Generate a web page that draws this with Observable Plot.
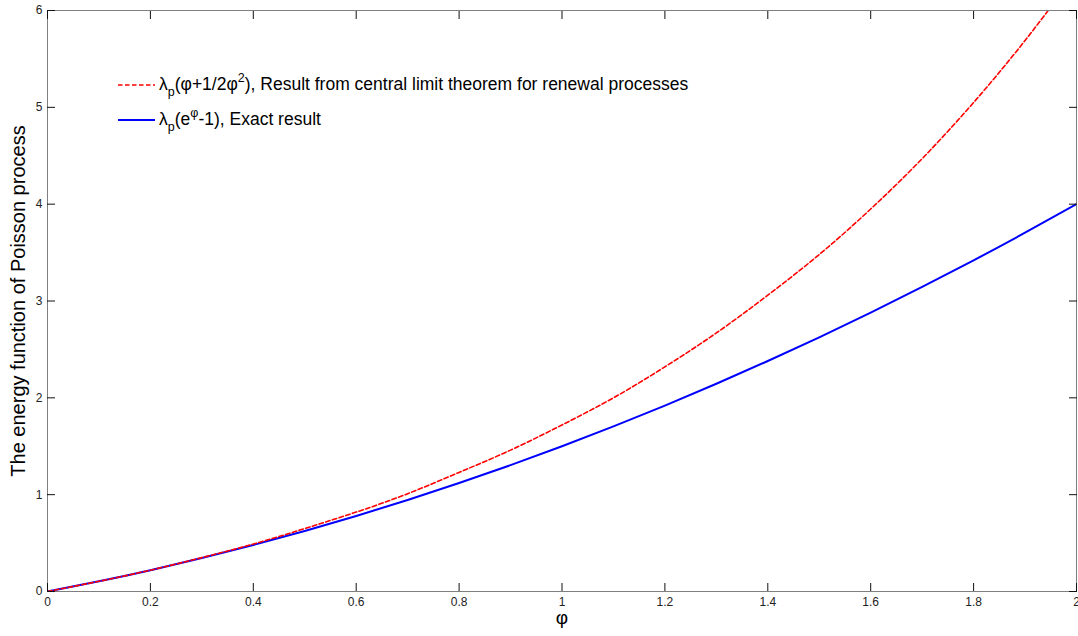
<!DOCTYPE html>
<html>
<head>
<meta charset="utf-8">
<script src="https://cdn.jsdelivr.net/npm/d3@7"></script>
<script src="https://cdn.jsdelivr.net/npm/@observablehq/plot@0.6"></script>
<style>
  html, body { margin: 0; padding: 0; background: #fff; }
  #wrap { position: relative; width: 1078px; height: 636px; font-family: "Liberation Sans", Arial, sans-serif; }
  #legend { position: absolute; left: 118px; top: 75px; font-size: 17.5px; color: #000; line-height: 1; }
  #legend .row { display: flex; align-items: center; height: 20px; margin-bottom: 15px; white-space: nowrap; }
  #legend svg { margin-right: 4px; }
  #legend sub { font-size: 12.5px; vertical-align: -6px; line-height: 0; }
  #legend sup { font-size: 12.5px; vertical-align: 8px; line-height: 0; }
</style>
</head>
<body>
<div id="wrap"><div id="legend"></div></div>
<script>
// x values (φ)
const phi = [0, 0.1, 0.2, 0.3, 0.4, 0.5, 0.6, 0.7, 0.8, 0.9, 1.0, 1.1, 1.2, 1.3, 1.4, 1.5, 1.6, 1.7, 1.8, 1.9, 2.0];
// red dashed curve (upper)
const redValues = [0, 0.105, 0.22, 0.35, 0.49, 0.65, 0.82, 1.01, 1.23, 1.46, 1.72, 2.0, 2.32, 2.67, 3.06, 3.48, 3.95, 4.47, 5.05, 5.69, 6.39];
// blue solid curve (lower)
const blueValues = [0, 0.105, 0.22, 0.345, 0.48, 0.625, 0.78, 0.945, 1.12, 1.305, 1.5, 1.705, 1.92, 2.145, 2.38, 2.625, 2.88, 3.145, 3.42, 3.705, 4.0];

const xTicks = [0, 0.2, 0.4, 0.6, 0.8, 1, 1.2, 1.4, 1.6, 1.8, 2];
const yTicks = [0, 1, 2, 3, 4, 5, 6];
const xLabel = "φ";
const yLabel = "The energy function of Poisson process";
const redLegend = ["λ", "p", "(φ+1/2φ", "2", "), Result from central limit theorem for renewal processes"];
const blueLegend = ["λ", "p", "(e", "φ", "-1), Exact result"];

const redColor = "#ff0000";
const blueColor = "#0000ff";

const redData = phi.map((x, i) => ({x, y: redValues[i]}));
const blueData = phi.map((x, i) => ({x, y: blueValues[i]}));

const chart = Plot.plot({
  width: 1078,
  height: 636,
  marginLeft: 47,
  marginRight: 2,
  marginTop: 10,
  marginBottom: 45,
  style: {fontFamily: "'Liberation Sans', Arial, sans-serif", fontSize: "12px", background: "#fff"},
  x: {domain: [0, 2]},
  y: {domain: [0, 6]},
  marks: [
    Plot.line(blueData, {x: "x", y: "y", stroke: blueColor, strokeWidth: 2, curve: "natural", clip: true}),
    Plot.line(redData, {x: "x", y: "y", stroke: redColor, strokeWidth: 1.6, strokeDasharray: "4.5,2.5", curve: "natural", clip: true}),
    Plot.frame({stroke: "#7f7f7f"}),
    Plot.axisX(xTicks, {anchor: "bottom", tickSize: -8, tickPadding: 14, stroke: "#111", fill: "#222", label: null, tickFormat: d => String(d)}),
    Plot.axisX(xTicks, {anchor: "top", tickSize: -8, stroke: "#111", label: null, tickFormat: () => ""}),
    Plot.axisY(yTicks, {anchor: "left", tickSize: -8, tickPadding: 13, stroke: "#111", fill: "#222", label: null, tickFormat: d => String(d)}),
    Plot.axisY(yTicks, {anchor: "right", tickSize: -8, stroke: "#111", label: null, tickFormat: () => ""}),
    Plot.text([yLabel], {frameAnchor: "left", textAnchor: "middle", rotate: -90, dx: -29, fontSize: 20, fill: "#000"}),
    Plot.text([xLabel], {frameAnchor: "bottom", textAnchor: "middle", dy: 32, fontSize: 19, fill: "#000"})
  ]
});
const wrap = document.getElementById("wrap");
wrap.insertBefore(chart, wrap.firstChild);

function legendRow(parts, color, dashed) {
  const row = document.createElement("div");
  row.className = "row";
  row.innerHTML =
    `<svg width="37" height="6"><line x1="0" x2="37" y1="3" y2="3" stroke="${color}" stroke-width="${dashed ? 1.6 : 2}" ${dashed ? 'stroke-dasharray="4.5,2.5"' : ""}/></svg>` +
    `<span>${parts[0]}<sub>${parts[1]}</sub>${parts[2]}<sup>${parts[3]}</sup>${parts[4]}</span>`;
  return row;
}
const legend = document.getElementById("legend");
legend.appendChild(legendRow(redLegend, redColor, true));
legend.appendChild(legendRow(blueLegend, blueColor, false));
</script>
</body>
</html>
